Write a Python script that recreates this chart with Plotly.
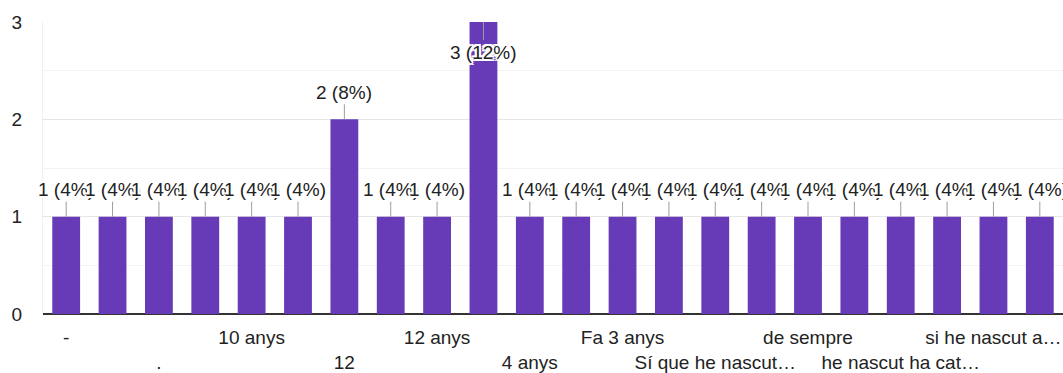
import plotly.graph_objects as go

# Category labels (only every other label is legible in the reference; the rest are unknown)
categories = ["-", "", ".", "", "10 anys", "", "12", "", "12 anys", "",
              "4 anys", "", "Fa 3 anys", "", "Sí que he nascut…", "",
              "de sempre", "", "he nascut ha cat…", "", "si he nascut a…", ""]
counts = [1, 1, 1, 1, 1, 1, 2, 1, 1, 3, 1, 1, 1, 1, 1, 1, 1, 1, 1, 1, 1, 1]
y_ticks = [0, 1, 2, 3]

total = sum(counts)
positions = list(range(len(counts)))
BAR = "#673ab7"
TXT = "#222222"
FONT = "Arial, 'Liberation Sans', sans-serif"
FS = 19
halo = ("2px 0 0 #fff, -2px 0 0 #fff, 0 2px 0 #fff, 0 -2px 0 #fff, "
        "2px 2px 0 #fff, -2px -2px 0 #fff, 2px -2px 0 #fff, -2px 2px 0 #fff")

fig = go.Figure()
fig.add_trace(go.Bar(x=positions, y=counts, marker_color=BAR, width=0.6,
                     marker_line_width=0, hoverinfo="skip"))

# tick labels: alternate rows
tickvals, ticktext = [], []
shown = [i for i in positions if categories[i] != ""]
for k, i in enumerate(shown):
    tickvals.append(i)
    ticktext.append(categories[i] if k % 2 == 0 else "<br>" + categories[i])

vmax = max(counts)
for i, v in enumerate(counts):
    pct = round(v / total * 100)
    fig.add_annotation(x=i, y=v, xref="x", yref="y", text=f"{v} ({pct}%)",
                       showarrow=True, arrowhead=0, arrowwidth=1, arrowcolor="#9e9e9e",
                       ax=0, ay=(30 if v == vmax else -27), standoff=0,
                       font=dict(family=FONT, size=FS, color=TXT, shadow=halo))

fig.update_layout(
    width=1063, height=373,
    margin=dict(l=43, r=0, t=22, b=59),
    paper_bgcolor="white", plot_bgcolor="white",
    showlegend=False, bargap=0.4,
    font=dict(family=FONT, size=FS, color=TXT),
    xaxis=dict(range=[-0.5, len(counts) - 0.5], tickvals=tickvals, ticktext=ticktext,
               tickangle=0, automargin=False,
               showgrid=False, zeroline=False, showline=False, ticks="",
               tickfont=dict(family=FONT, size=FS, color=TXT), ticklabelstandoff=10,
               fixedrange=True),
    yaxis=dict(range=[0, 3], tickvals=y_ticks, showgrid=True, gridcolor="#e6e6e6",
               gridwidth=1, zeroline=True, zerolinecolor="#333333", zerolinewidth=2,
               showline=True, linecolor="#f0f0f0", linewidth=1, ticks="",
               automargin=False,
               tickfont=dict(family=FONT, size=FS, color=TXT), ticklabelstandoff=16,
               minor=dict(tickvals=[0.5, 1.5, 2.5], showgrid=True, gridcolor="#f3f3f3",
                          gridwidth=1),
               fixedrange=True),
)

fig.write_html("out.html")
